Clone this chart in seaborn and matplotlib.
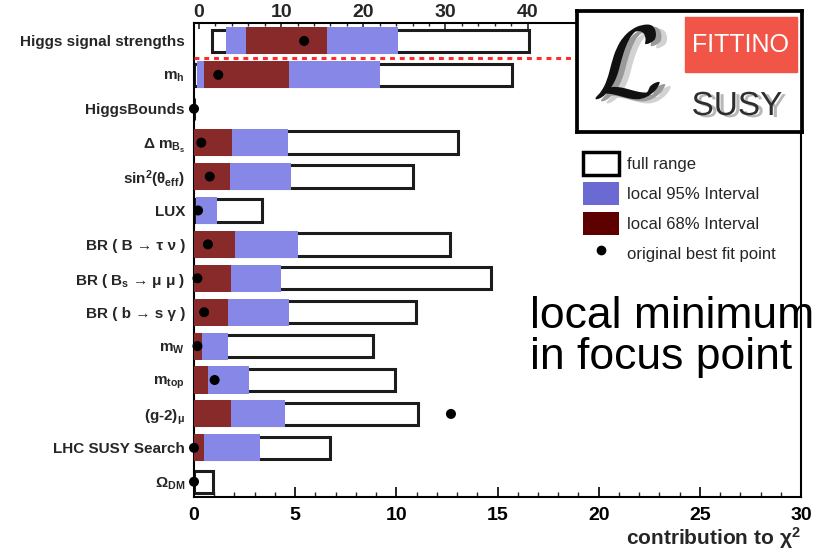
import numpy as np
import pandas as pd
import matplotlib
matplotlib.use("Agg")
import matplotlib.pyplot as plt
import matplotlib.patheffects as pe
from matplotlib.patches import Patch, Rectangle
from matplotlib.lines import Line2D
from matplotlib.ticker import MultipleLocator, FixedLocator
import seaborn as sns

# ---------------------------------------------------------------- data
# Observable rows drawn against the bottom chi^2 scale (top to bottom)
labels = [
    r"m$_{h}$",
    "HiggsBounds",
    r"Δ m$_{B_s}$",
    r"sin$^{2}$(θ$_{eff}$)",
    "LUX",
    "BR ( B → τ ν )",
    r"BR ( B$_{s}$ → μ μ )",
    "BR ( b → s γ )",
    r"m$_{W}$",
    r"m$_{top}$",
    r"(g-2)$_{μ}$",
    "LHC SUSY Search",
    r"Ω$_{DM}$",
]
full_lo = [0.0, 0.0, 0.0, 0.0, 0.0, 0.0, 0.0, 0.0, 0.0, 0.0, 0.0, 0.0, 0.0]
full_hi = [15.7, 0.0, 13.07, 10.84, 3.37, 12.66, 14.7, 10.96, 8.86, 9.95, 11.09, 6.72, 0.94]
ci95_lo = [0.15, 0.0, 0.0, 0.0, 0.08, 0.0, 0.0, 0.0, 0.0, 0.0, 0.0, 0.0, 0.0]
ci95_hi = [9.2, 0.0, 4.67, 4.79, 1.14, 5.15, 4.29, 4.69, 1.70, 2.72, 4.49, 3.28, 0.0]
ci68_lo = [0.5, 0.0, 0.0, 0.0, 0.0, 0.0, 0.0, 0.0, 0.0, 0.0, 0.0, 0.0, 0.0]
ci68_hi = [4.7, 0.0, 1.90, 1.77, 0.0, 2.01, 1.85, 1.70, 0.40, 0.68, 1.85, 0.50, 0.0]
best_fit = [1.2, 0.0, 0.36, 0.78, 0.2, 0.69, 0.17, 0.5, 0.17, 1.02, 12.7, 0.0, 0.0]

# Higgs signal strengths, read against the top chi^2 scale
higgs_label = "Higgs signal strengths"
higgs_full = (1.6, 40.2)
higgs_95 = (3.3, 24.2)
higgs_68 = (5.7, 15.6)
higgs_best = 12.8

bottom_ticks = [0, 5, 10, 15, 20, 25, 30]
top_ticks = [0, 10, 20, 30, 40]

# ---------------------------------------------------------------- style
sns.set_theme(style="ticks")
plt.rcParams["font.family"] = ["Liberation Sans", "DejaVu Sans"]
plt.rcParams["font.weight"] = "bold"
plt.rcParams["mathtext.fontset"] = "custom"
for key in ("rm", "it", "bf", "sf"):
    plt.rcParams[f"mathtext.{key}"] = "Liberation Sans:bold"

C_FULL_EDGE = "#1c1c1c"
C_95 = "#8787e8"
C_68 = "#892a2a"
C_95_KEY = "#6a6ad2"
C_68_KEY = "#5e0000"

BOX_H = 0.66
FILL_H = 0.80

fig = plt.figure(figsize=(8.23, 5.52), dpi=100)
W, H = 823, 552
ax = fig.add_axes([194 / W, 1 - 497 / H, 607 / W, (497 - 23.3) / H])
ax_top = ax.twiny()

rows = np.arange(1, len(labels) + 1)
df = pd.DataFrame({
    "row": rows, "full_lo": full_lo, "full_hi": full_hi,
    "ci95_lo": ci95_lo, "ci95_hi": ci95_hi,
    "ci68_lo": ci68_lo, "ci68_hi": ci68_hi, "best": best_fit,
})
df["full_w"] = df.full_hi - df.full_lo
df["ci95_w"] = df.ci95_hi - df.ci95_lo
df["ci68_w"] = df.ci68_hi - df.ci68_lo

# full range boxes, then the 95% and 68% intervals on top
ax.barh(df.row, df.full_w, left=df.full_lo, height=BOX_H, facecolor="white",
        edgecolor=C_FULL_EDGE, linewidth=2.2, zorder=2)
ax.barh(df.row, df.ci95_w, left=df.ci95_lo, height=FILL_H, color=C_95,
        linewidth=0, zorder=3)
ax.barh(df.row, df.ci68_w, left=df.ci68_lo, height=FILL_H, color=C_68,
        linewidth=0, zorder=4)
sns.scatterplot(data=df, x="best", y="row", ax=ax, color="black", s=52,
                edgecolor="none", zorder=5, clip_on=False, legend=False)

# Higgs signal strengths row on the top scale
ax_top.barh(0, higgs_full[1] - higgs_full[0], left=higgs_full[0], height=BOX_H,
            facecolor="white", edgecolor=C_FULL_EDGE, linewidth=2.2, zorder=2)
ax_top.barh(0, higgs_95[1] - higgs_95[0], left=higgs_95[0], height=FILL_H,
            color=C_95, linewidth=0, zorder=3)
ax_top.barh(0, higgs_68[1] - higgs_68[0], left=higgs_68[0], height=FILL_H,
            color=C_68, linewidth=0, zorder=4)
sns.scatterplot(x=[higgs_best], y=[0], ax=ax_top, color="black", s=52,
                edgecolor="none", zorder=5, legend=False)

# separator between the two scales
ax.axhline(0.5, color="#ff2a2a", linestyle=(0, (1.6, 1.6)), linewidth=2.2,
           zorder=6)

# ---------------------------------------------------------------- axes
ax.set_xlim(0, 30)
ax.set_ylim(13.45, -0.52)
ax_top.set_xlim(-0.61, 73.3)
ax.set_ylabel("")
ax_top.set_ylabel("")

ax.set_yticks(np.arange(0, len(labels) + 1))
ax.set_yticklabels([higgs_label] + labels, fontsize=11, fontweight="bold")
ax.tick_params(axis="y", length=0, pad=6.5)

ax.xaxis.set_major_locator(FixedLocator(bottom_ticks))
ax.xaxis.set_minor_locator(MultipleLocator(1))
ax.set_xticklabels([str(t) for t in bottom_ticks], fontsize=14,
                   fontweight="bold")
ax.tick_params(axis="x", which="major", direction="in", length=7, width=1.2,
               pad=7, colors="black")
ax.tick_params(axis="x", which="minor", direction="in", length=3.5, width=1.0)
ax.set_xlabel(r"contribution to $\chi^{2}$", loc="right", fontsize=15,
              fontweight="bold", labelpad=1)

ax_top.xaxis.set_major_locator(FixedLocator(top_ticks))
ax_top.xaxis.set_minor_locator(FixedLocator(np.arange(0, 41, 2)))
ax_top.set_xticklabels([str(t) for t in top_ticks], fontsize=14,
                       fontweight="bold")
ax_top.tick_params(axis="x", which="major", direction="in", length=4,
                   width=1.2, pad=2)
ax_top.tick_params(axis="x", which="minor", direction="in", length=2.5,
                   width=1.0)

for side in ("left", "right", "bottom"):
    ax.spines[side].set_color("black")
    ax.spines[side].set_linewidth(1.5)
    ax_top.spines[side].set_visible(False)
ax.spines["top"].set_visible(False)
ax_top.spines["top"].set_color("black")
ax_top.spines["top"].set_linewidth(1.5)

# ---------------------------------------------------------------- legend
handles = [
    Patch(facecolor="white", edgecolor="black", linewidth=2.5),
    Patch(facecolor=C_95_KEY, edgecolor="none"),
    Patch(facecolor=C_68_KEY, edgecolor="none"),
    Line2D([], [], marker="o", linestyle="none", color="black", markersize=6),
]
fig.legend(handles, ["full range", "local 95% Interval", "local 68% Interval",
                     "original best fit point"],
           loc="upper left", bbox_to_anchor=(582.7 / W, 1 - 151.7 / H),
           frameon=False, prop={"size": 12, "weight": "normal"},
           handlelength=2.2, handleheight=1.75, labelspacing=0.42,
           handletextpad=0.48, borderpad=0, borderaxespad=0)

# ---------------------------------------------------------------- logo
logo = fig.add_axes([577 / W, 1 - 132 / H, 225 / W, 121 / H], zorder=10)
logo.set_xlim(0, 225)
logo.set_ylim(121, 0)
logo.set_facecolor("white")
logo.set_xticks([])
logo.set_yticks([])
for sp in logo.spines.values():
    sp.set_color("black")
    sp.set_linewidth(2.7)
logo.add_patch(Rectangle((108, 5.7), 112, 55, color="#f05548"))
logo.text(164, 34, "FITTINO", color="white", ha="center", va="center",
          fontsize=18, fontweight="normal")
logo.text(50, 60, r"$\mathcal{L}$", math_fontfamily="cm", fontsize=74,
          color="#111111", ha="center", va="center",
          path_effects=[
              pe.SimplePatchShadow(offset=(8, -3), shadow_rgbFace="#d2d2d2",
                                   alpha=1.0),
              pe.SimplePatchShadow(offset=(4, -1.5), shadow_rgbFace="#9a9a9a",
                                   alpha=1.0),
              pe.Normal(),
          ])
logo.text(160, 104, "SUSY", color="#2e2e2e", ha="center", va="baseline",
          fontsize=24, fontweight="normal",
          path_effects=[
              pe.SimplePatchShadow(offset=(3, -1.5), shadow_rgbFace="#b8b8b8",
                                   alpha=1.0),
              pe.Normal(),
          ])

# ---------------------------------------------------------------- note
fig.text(530 / W, 1 - 328 / H, "local minimum", fontsize=32,
         fontweight="normal", ha="left", va="baseline", color="black")
fig.text(530 / W, 1 - 369 / H, "in focus point", fontsize=32,
         fontweight="normal", ha="left", va="baseline", color="black")

fig.savefig("out.png", dpi=100)
